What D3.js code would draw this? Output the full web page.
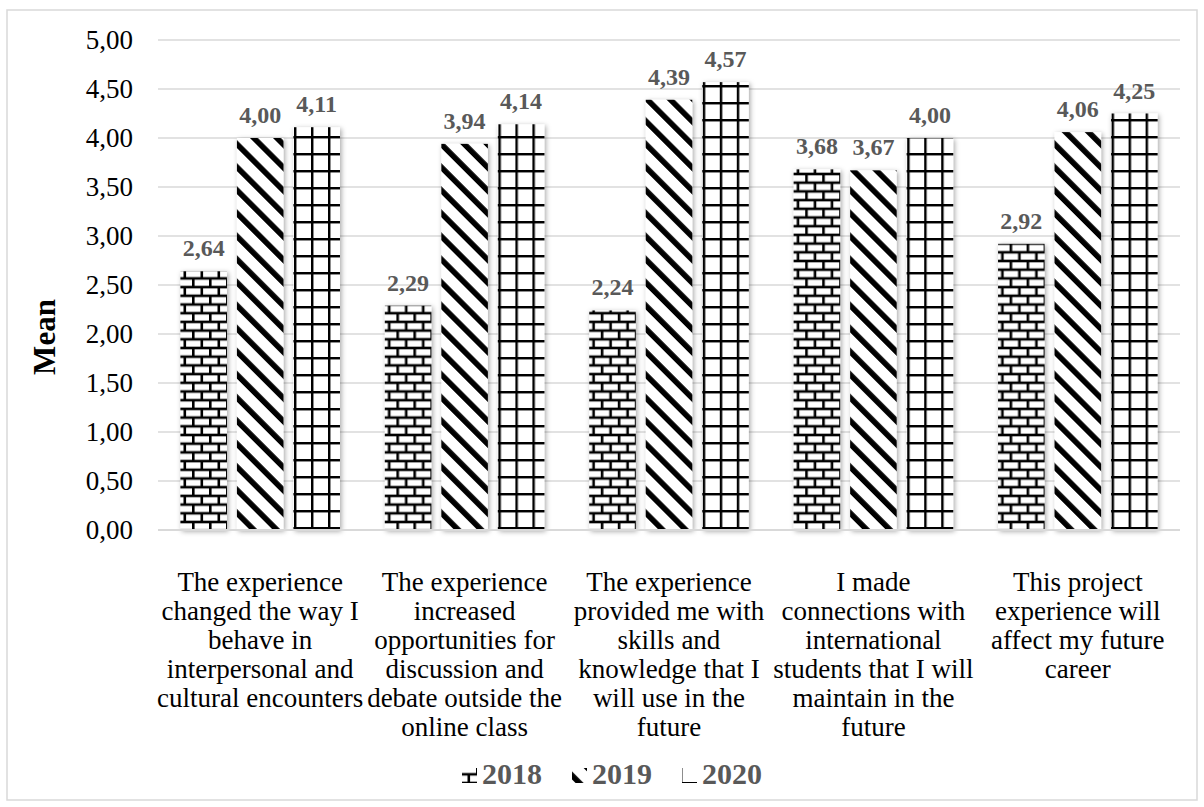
<!DOCTYPE html>
<html>
<head>
<meta charset="utf-8">
<script src="https://cdn.jsdelivr.net/npm/d3@7"></script>
<style>
  html, body { margin: 0; padding: 0; background: #fff; }
  svg { display: block; }
  text { font-family: "Liberation Serif", "Times New Roman", serif; }
</style>
</head>
<body>
<svg id="chart" width="1204" height="807"></svg>
<script>
// ---- data ----
const categories = [
  ["The experience", "changed the way I", "behave in", "interpersonal and", "cultural encounters"],
  ["The experience", "increased", "opportunities for", "discussion and", "debate outside the", "online class"],
  ["The experience", "provided me with", "skills and", "knowledge that I", "will use in the", "future"],
  ["I made", "connections with", "international", "students that I will", "maintain in the", "future"],
  ["This project", "experience will", "affect my future", "career"]
];
const seriesNames = ["2018", "2019", "2020"];
const values2018 = [2.64, 2.29, 2.24, 3.68, 2.92];
const values2019 = [4.00, 3.94, 4.39, 3.67, 4.06];
const values2020 = [4.11, 4.14, 4.57, 4.00, 4.25];
const yTicks = [0, 0.5, 1, 1.5, 2, 2.5, 3, 3.5, 4, 4.5, 5];
const yTitle = "Mean";

const seriesValues = [values2018, values2019, values2020];
const patternIds = ["pat2018", "pat2019", "pat2020"];

const svg = d3.select("#chart");
const W = 1204, H = 807;
const plot = { left: 158, right: 1180, top: 40, bottom: 530 };

// chart border
svg.append("rect").attr("x", 7).attr("y", 10).attr("width", W - 14).attr("height", H - 17)
  .attr("fill", "#fff").attr("stroke", "#d9d9d9").attr("stroke-width", 1.5);

// ---- defs: patterns and shadow ----
const defs = svg.append("defs");
// brick
const pb = defs.append("pattern").attr("id", "pat2018").attr("patternUnits", "userSpaceOnUse")
  .attr("width", 17).attr("height", 17.4);
pb.append("rect").attr("width", 17).attr("height", 17.4).attr("fill", "#fff");
pb.append("line").attr("x1", 0).attr("x2", 17).attr("y1", 0).attr("y2", 0).attr("stroke", "#000").attr("stroke-width", 2.6);
pb.append("line").attr("x1", 0).attr("x2", 17).attr("y1", 8.7).attr("y2", 8.7).attr("stroke", "#000").attr("stroke-width", 2.6);
pb.append("line").attr("x1", 0).attr("x2", 17).attr("y1", 17.4).attr("y2", 17.4).attr("stroke", "#000").attr("stroke-width", 2.6);
pb.append("line").attr("x1", 1.3).attr("x2", 1.3).attr("y1", 0).attr("y2", 8.7).attr("stroke", "#000").attr("stroke-width", 2.6);
pb.append("line").attr("x1", 9.8).attr("x2", 9.8).attr("y1", 8.7).attr("y2", 17.4).attr("stroke", "#000").attr("stroke-width", 2.6);
// diagonal
const pd = defs.append("pattern").attr("id", "pat2019").attr("patternUnits", "userSpaceOnUse")
  .attr("width", 16.3).attr("height", 16.3).attr("patternTransform", "rotate(-45)");
pd.append("rect").attr("width", 16.3).attr("height", 16.3).attr("fill", "#fff");
pd.append("rect").attr("x", 0).attr("width", 5.6).attr("height", 16.3).attr("fill", "#000");
// grid
const pg = defs.append("pattern").attr("id", "pat2020").attr("patternUnits", "userSpaceOnUse")
  .attr("width", 17).attr("height", 17);
pg.append("rect").attr("width", 17).attr("height", 17).attr("fill", "#fff");
pg.append("line").attr("x1", 1.2).attr("x2", 1.2).attr("y1", 0).attr("y2", 17).attr("stroke", "#000").attr("stroke-width", 2.5);
pg.append("line").attr("x1", 0).attr("x2", 17).attr("y1", 1.2).attr("y2", 1.2).attr("stroke", "#000").attr("stroke-width", 2.5);

const f = defs.append("filter").attr("id", "shadow").attr("x", "-30%").attr("y", "-10%").attr("width", "160%").attr("height", "120%");
f.append("feDropShadow").attr("dx", 1.5).attr("dy", 1.5).attr("stdDeviation", 2.5)
  .attr("flood-color", "#000").attr("flood-opacity", 0.35);

// ---- scales ----
const x0 = d3.scaleBand().domain(d3.range(categories.length)).range([plot.left, plot.right]).padding(0);
const x1 = d3.scaleBand().domain(seriesNames).range([0, x0.bandwidth()])
  .paddingInner(0.177).paddingOuter(0.397);
const y = d3.scaleLinear().domain([0, 5]).range([plot.bottom, plot.top]);
const fmt = v => d3.format(".2f")(v).replace(".", ",");

// gridlines
svg.append("g").selectAll("line").data(yTicks.filter(t => t > 0)).join("line")
  .attr("x1", plot.left).attr("x2", plot.right)
  .attr("y1", d => y(d)).attr("y2", d => y(d))
  .attr("stroke", "#d9d9d9").attr("stroke-width", 1.5);

// y axis labels
const yAxis = d3.axisLeft(y).tickValues(yTicks).tickFormat(fmt).tickSize(0).tickPadding(25);
const yg = svg.append("g").attr("transform", `translate(${plot.left},0)`).call(yAxis);
yg.select(".domain").remove();
yg.selectAll("text").attr("font-size", 27).attr("fill", "#000")
  .style("font-family", '"Liberation Serif", "Times New Roman", serif');

// bars
const groups = svg.append("g").selectAll("g").data(categories).join("g")
  .attr("transform", (d, i) => `translate(${x0(i)},0)`);
groups.each(function (d, i) {
  const g = d3.select(this);
  seriesNames.forEach((s, si) => {
    const v = seriesValues[si][i];
    g.append("rect")
      .attr("x", x1(s)).attr("width", x1.bandwidth())
      .attr("y", y(v)).attr("height", y(0) - y(v))
      .attr("fill", `url(#${patternIds[si]})`)
      .attr("filter", "url(#shadow)");
  });
});

// baseline
svg.append("line").attr("x1", plot.left).attr("x2", plot.right)
  .attr("y1", y(0)).attr("y2", y(0)).attr("stroke", "#d9d9d9").attr("stroke-width", 2);

// value labels
groups.each(function (d, i) {
  const g = d3.select(this);
  seriesNames.forEach((s, si) => {
    const v = seriesValues[si][i];
    g.append("text")
      .attr("x", x1(s) + x1.bandwidth() / 2).attr("y", y(v) - 15)
      .attr("text-anchor", "middle").attr("font-size", 24).attr("font-weight", "bold")
      .attr("fill", "#595959").text(fmt(v));
  });
});

// category labels
const catG = svg.append("g");
categories.forEach((lines, i) => {
  const t = catG.append("text").attr("text-anchor", "middle").attr("font-size", 27).attr("fill", "#000");
  lines.forEach((ln, li) => {
    t.append("tspan").attr("x", x0(i) + x0.bandwidth() / 2).attr("y", 591 + li * 29).text(ln);
  });
});

// y title
svg.append("text").attr("transform", "translate(55,337) rotate(-90)")
  .attr("text-anchor", "middle").attr("font-size", 31).attr("font-weight", "bold")
  .attr("fill", "#000").text(yTitle);

// legend
const lg = svg.append("g");
seriesNames.forEach((s, si) => {
  const lx = 462 + si * 110;
  lg.append("rect").attr("x", lx).attr("y", 768).attr("width", 15).attr("height", 15)
    .attr("fill", `url(#${patternIds[si]})`);
  lg.append("text").attr("x", lx + 20).attr("y", 784).attr("font-size", 30).attr("font-weight", "bold")
    .attr("fill", "#595959").text(s);
});
</script>
</body>
</html>
